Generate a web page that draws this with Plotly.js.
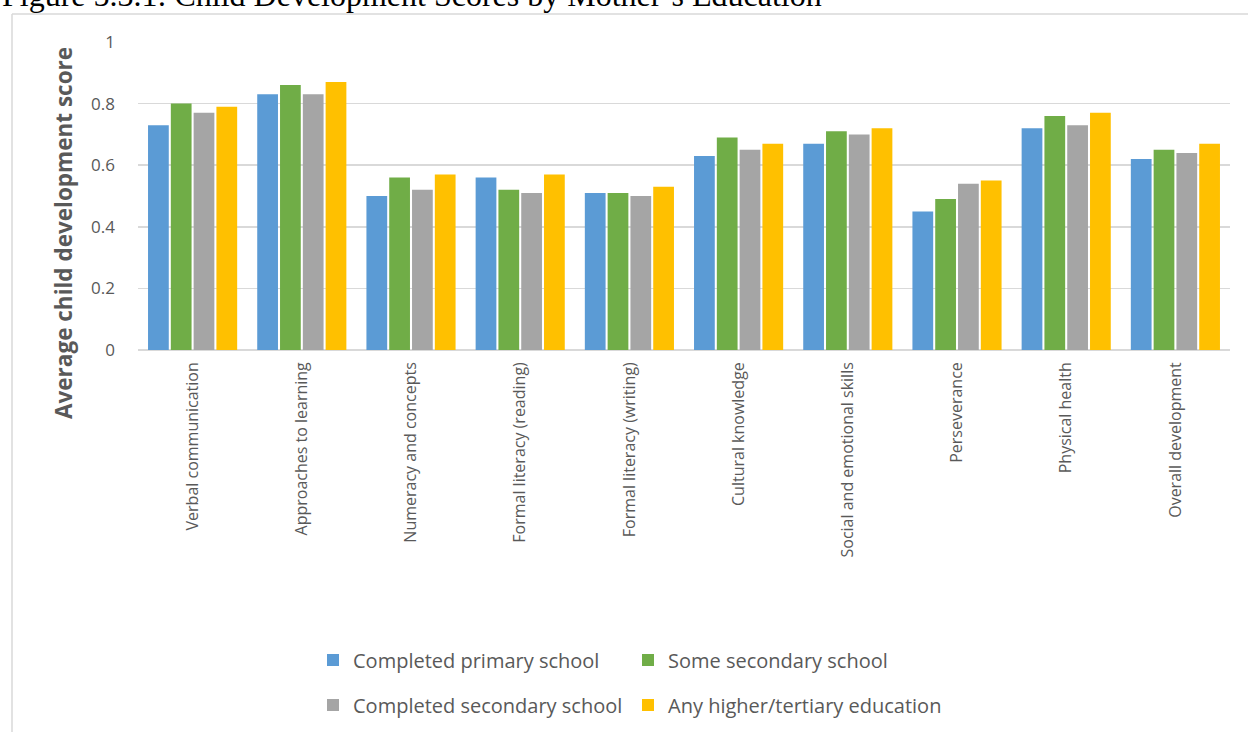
<!DOCTYPE html>
<html>
<head>
<meta charset="utf-8">
<script src="https://cdn.plot.ly/plotly-3.0.1.min.js"></script>
<style>html,body{margin:0;padding:0;background:#fff;}#chart{width:1248px;height:732px;}</style>
</head>
<body>
<div id="chart"></div>
<script>
const categories = ["Verbal communication","Approaches to learning","Numeracy and concepts","Formal literacy (reading)","Formal literacy (writing)","Cultural knowledge","Social and emotional skills","Perseverance","Physical health","Overall development"];
const seriesNames = ["Completed primary school","Some secondary school","Completed secondary school","Any higher/tertiary education"];
const primary   = [0.73,0.83,0.50,0.56,0.51,0.63,0.67,0.45,0.72,0.62];
const someSec   = [0.80,0.86,0.56,0.52,0.51,0.69,0.71,0.49,0.76,0.65];
const complSec  = [0.77,0.83,0.52,0.51,0.50,0.65,0.70,0.54,0.73,0.64];
const higher    = [0.79,0.87,0.57,0.57,0.53,0.67,0.72,0.55,0.77,0.67];
const colors = ["#5B9BD5","#70AD47","#A5A5A5","#FFC000"];
const legends = ["legend","legend","legend2","legend2"];
const allVals = [primary, someSec, complSec, higher];

const traces = allVals.map((v,i)=>({
  type:"bar", x:categories, y:v, name:seriesNames[i],
  marker:{color:colors[i], line:{width:0}},
  legend:legends[i], hoverinfo:"x+y+name"
}));

const FW = 1248, FH = 732;
const W = 1092, H = 308, L = 138, T = 42;
const px = p => (p - L) / W;          // page x pixel -> paper
const py = p => (T + H - p) / H;      // page y pixel -> paper
const cx = p => p / FW;               // page x pixel -> container
const cy = p => 1 - p / FH;           // page y pixel -> container

const legendFont = {family:"'Open Sans', 'Liberation Sans', sans-serif", size:20, color:"#595959"};
const layout = {
  width:FW, height:FH,
  paper_bgcolor:"#fff", plot_bgcolor:"#fff",
  margin:{l:L, r:FW-L-W, t:T, b:FH-T-H},
  barmode:"group", bargap:0.165, bargroupgap:0.09,
  font:{family:"'Open Sans', 'Liberation Sans', sans-serif", color:"#595959"},
  xaxis:{
    tickangle:-90, tickfont:{size:16, color:"#595959"},
    showgrid:false, showline:false, ticks:"", ticklabelstandoff:8, automargin:false
  },
  yaxis:{
    range:[0,1], dtick:0.2, tick0:0, automargin:false,
    gridcolor:"#d9d9d9", gridwidth:1.5, zeroline:true, zerolinecolor:"#d9d9d9", zerolinewidth:1.5,
    tickfont:{size:17, color:"#595959"}, ticklabelstandoff:22
  },
  legend:{orientation:"h", xref:"container", yref:"container", x:cx(313), xanchor:"left", y:cy(660), yanchor:"middle", entrywidth:270, font:legendFont, traceorder:"normal"},
  legend2:{orientation:"h", xref:"container", yref:"container", x:cx(313), xanchor:"left", y:cy(705), yanchor:"middle", entrywidth:270, font:legendFont, traceorder:"normal"},
  shapes:[
    {type:"line", xref:"paper", yref:"paper", x0:px(12), x1:px(1260), y0:py(14), y1:py(14), line:{color:"#d9d9d9", width:1.5}},
    {type:"line", xref:"paper", yref:"paper", x0:px(12), x1:px(12), y0:py(14), y1:py(740), line:{color:"#d9d9d9", width:1.5}}
  ],
  annotations:[
    {text:"Figure 5.3.1: Child Development Scores by Mother’s Education", xref:"paper", yref:"paper",
     x:px(0), xanchor:"left", y:py(15), yanchor:"bottom", showarrow:false,
     font:{family:"'Liberation Serif', 'Times New Roman', serif", size:32, color:"#000"}},
    {text:"<b>Average child development score</b>", xref:"paper", yref:"paper",
     x:px(63), xanchor:"center", y:py(233), yanchor:"middle", textangle:-90, showarrow:false,
     font:{size:22.5, color:"#595959"}}
  ]
};
Plotly.newPlot("chart", traces, layout, {displayModeBar:false, staticPlot:true});
</script>
</body>
</html>
